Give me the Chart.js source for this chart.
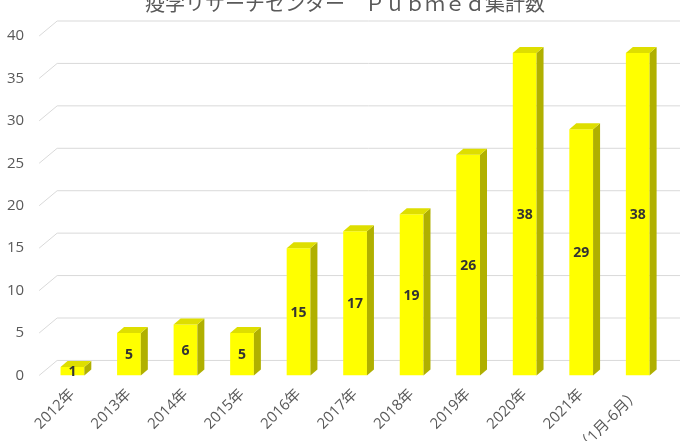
<!DOCTYPE html>
<html>
<head>
<meta charset="utf-8">
<script src="https://cdn.jsdelivr.net/npm/chart.js@4"></script>
<style>
    html, body { margin: 0; padding: 0; background: #fff; overflow: hidden; width: 700px; height: 441px; }
    #wrap { position: absolute; left: -12px; top: -15px; width: 712px; height: 508px; }
</style>
</head>
<body>
<div id="wrap"><canvas id="pubChart"></canvas></div>
<script>
// chart data
const titleText = '　  疫学リサーチセンター　Ｐｕｂｍｅｄ集計数';
const years = ['2012年', '2013年', '2014年', '2015年', '2016年', '2017年', '2018年', '2019年', '2020年', '2021年', '2022年（1月-6月）'];
const counts = [1, 5, 6, 5, 15, 17, 19, 26, 38, 29, 38];
const yTicks = [0, 5, 10, 15, 20, 25, 30, 35, 40];

// 3D look
const depthX = 7, depthY = 6;
const gridDX = 18, gridDY = 15;

const fakeDepth = {
    id: 'fakeDepth',
    beforeDatasetsDraw(chart) {
        const ctx = chart.ctx;
        const area = chart.chartArea;
        const yScale = chart.scales.y;
        ctx.save();
        ctx.strokeStyle = '#d9d9d9';
        ctx.lineWidth = 1;
        yScale.ticks.forEach(t => {
            const y = yScale.getPixelForValue(t.value);
            ctx.beginPath();
            ctx.moveTo(area.left - 5, y);
            ctx.lineTo(area.left - 5 + gridDX, y - gridDY);
            ctx.lineTo(area.right + 14, y - gridDY);
            ctx.stroke();
        });
        ctx.restore();
    },
    afterDatasetsDraw(chart) {
        const ctx = chart.ctx;
        const meta = chart.getDatasetMeta(0);
        ctx.save();
        meta.data.forEach((bar, i) => {
            const w = bar.width;
            const l = bar.x - w / 2, r = bar.x + w / 2;
            const top = bar.y, base = bar.base;
            // side face
            ctx.fillStyle = '#b0b000';
            ctx.beginPath();
            ctx.moveTo(r, top);
            ctx.lineTo(r + depthX, top - depthY);
            ctx.lineTo(r + depthX, base - depthY);
            ctx.lineTo(r, base);
            ctx.closePath();
            ctx.fill();
            // top face
            ctx.fillStyle = '#dede00';
            ctx.beginPath();
            ctx.moveTo(l, top);
            ctx.lineTo(l + depthX, top - depthY);
            ctx.lineTo(r + depthX, top - depthY);
            ctx.lineTo(r, top);
            ctx.closePath();
            ctx.fill();
            // value label
            ctx.fillStyle = '#333333';
            ctx.font = 'bold 14px "Open Sans", "Noto Sans CJK JP"';
            ctx.textAlign = 'center';
            ctx.textBaseline = 'middle';
            const labelY = Math.min((top + base) / 2, base - 4);
            ctx.fillText(String(counts[i]), bar.x, labelY + 1);
        });
        ctx.restore();
    }
};

new Chart(document.getElementById('pubChart'), {
    type: 'bar',
    data: {
        labels: years,
        datasets: [{
            data: counts,
            backgroundColor: '#ffff00',
            borderWidth: 0,
            barPercentage: 0.42,
            categoryPercentage: 1
        }]
    },
    options: {
        responsive: true,
        maintainAspectRatio: false,
        animation: false,
        layout: { padding: { left: 7, right: 34, top: 0, bottom: 0 } },
        plugins: {
            legend: { display: false },
            tooltip: { enabled: false },
            title: {
                display: true,
                text: titleText,
                color: '#595959',
                font: { size: 20, family: '"Noto Sans CJK JP", "Open Sans"', weight: 'normal', lineHeight: 1.2 },
                padding: { top: 6, bottom: 21 }
            }
        },
        scales: {
            x: {
                grid: { display: false },
                border: { display: false },
                ticks: {
                    color: '#595959',
                    font: { size: 15, family: '"Open Sans", "Noto Sans CJK JP"' },
                    maxRotation: 45,
                    minRotation: 45,
                    autoSkip: false,
                    padding: 2
                }
            },
            y: {
                min: 0,
                max: 40,
                afterBuildTicks: axis => { axis.ticks = yTicks.map(v => ({ value: v })); },
                grid: { display: false },
                border: { display: false },
                ticks: {
                    color: '#595959',
                    font: { size: 15, family: '"Open Sans", "Noto Sans"' },
                    padding: 12
                }
            }
        }
    },
    plugins: [fakeDepth]
});
</script>
</body>
</html>
